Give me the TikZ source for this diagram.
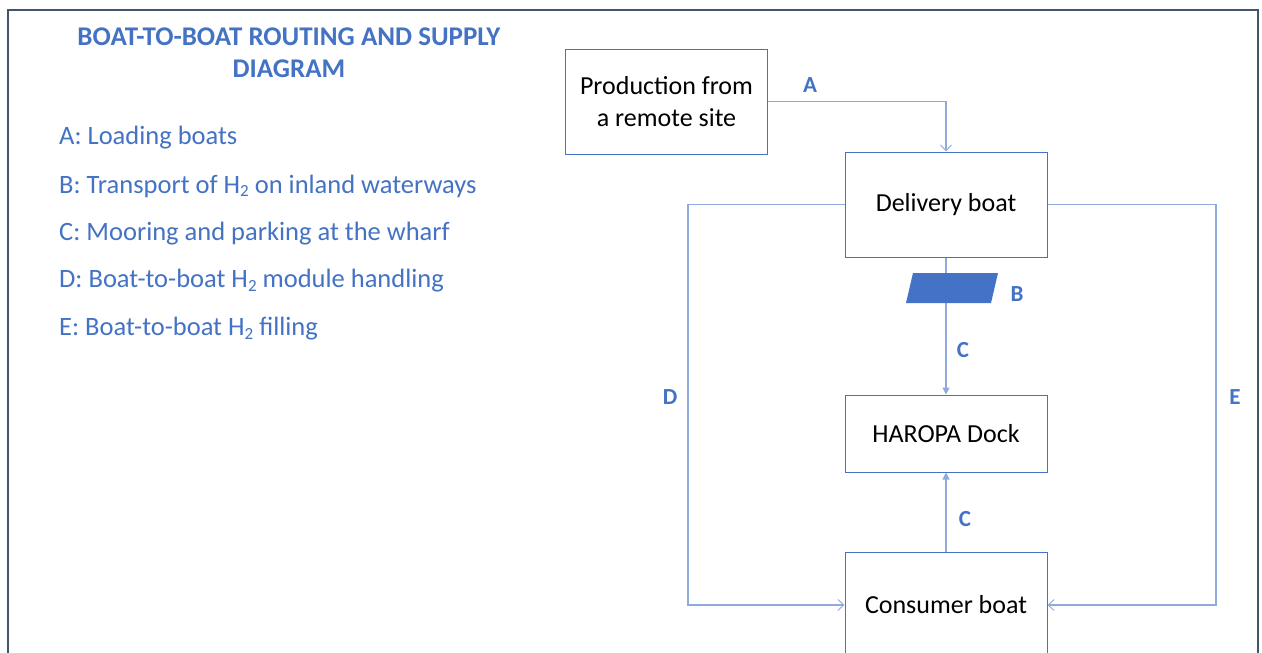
\documentclass[tikz,border=0pt]{standalone}
\usepackage{fontspec}
\setmainfont{Carlito}
\usetikzlibrary{arrows.meta}
\definecolor{accent}{HTML}{4472C4}
\definecolor{conn}{HTML}{8FAADC}
\definecolor{frame}{HTML}{44546A}
\newcommand{\subtwo}{\raisebox{-0.3ex}{\fontsize{17}{17}\selectfont 2}}
\tikzset{
  box/.style={draw=accent, line width=1pt, minimum width=202pt, align=center, font=\fontsize{26}{32}\selectfont, text=black, inner sep=0pt},
  conn/.style={draw=conn, line width=1.2pt},
  openarrow/.style={-{Straight Barb[length=6pt,width=11pt,line width=0.9pt]}},
  filledarrow/.style={-{Triangle[length=7pt,width=7pt]}},
  lbl/.style={text=accent, font=\fontsize{23}{26}\selectfont\bfseries},
  legend/.style={text=accent, font=\fontsize{26.5}{30}\selectfont, anchor=west, inner sep=0pt},
}
\begin{document}
\begin{tikzpicture}[x=1pt,y=-1pt]
\useasboundingbox (0,0) rectangle (1262,653);
\fill[white] (0,0) rectangle (1262,653);
% frame
\draw[frame, line width=2pt] (8,660) -- (8,10) -- (1258,10) -- (1258,660);
% title
\node[text=accent, font=\fontsize{27}{32}\selectfont\bfseries, align=center] (title) at (289,53) {BOAT-TO-BOAT ROUTING AND SUPPLY\\DIAGRAM};
% legend
\node[legend] (la) at (59,138) {A: Loading boats};
\node[legend] (lb) at (59,186) {B: Transport of H\subtwo{} on inland waterways};
\node[legend] (lc) at (59,234) {C: Mooring and parking at the wharf};
\node[legend] (ld) at (59,281) {D: Boat-to-boat H\subtwo{} module handling};
\node[legend] (le) at (59,329) {E: Boat-to-boat H\subtwo{} filling};
% boxes
\node[box, minimum height=105pt] (prod) at (666.5,101.5) {Production from\\a remote site};
\node[box, minimum height=105pt] (deliv) at (946,204.5) {Delivery boat};
\node[box, minimum height=77pt] (dock) at (946,433.5) {HAROPA Dock};
\node[box, minimum height=106pt] (cons) at (946,605) {Consumer boat};
% connectors
\coordinate (dl) at (688,0);
\coordinate (el) at (1216,0);
\draw[conn, openarrow] (prod.east) -| (deliv.north);
\draw[conn, filledarrow] (deliv.south) -- (dock.north);
\draw[conn, filledarrow] (cons.north) -- (dock.south);
\draw[conn, openarrow] (deliv.west) -| (dl |- cons.west) -- (cons.west);
\draw[conn, openarrow] (deliv.east) -| (el |- cons.east) -- (cons.east);
% parallelogram B
\fill[accent] (913,273) -- (998,273) -- (991,303) -- (906,303) -- cycle;
% labels
\node[lbl] (a) at (810,85) {A};
\node[lbl] (b) at (1017,294) {B};
\node[lbl] (c1) at (963,350) {C};
\node[lbl] (c2) at (965,519) {C};
\node[lbl] (d) at (670,397) {D};
\node[lbl] (e) at (1235,397) {E};
\end{tikzpicture}
\end{document}
